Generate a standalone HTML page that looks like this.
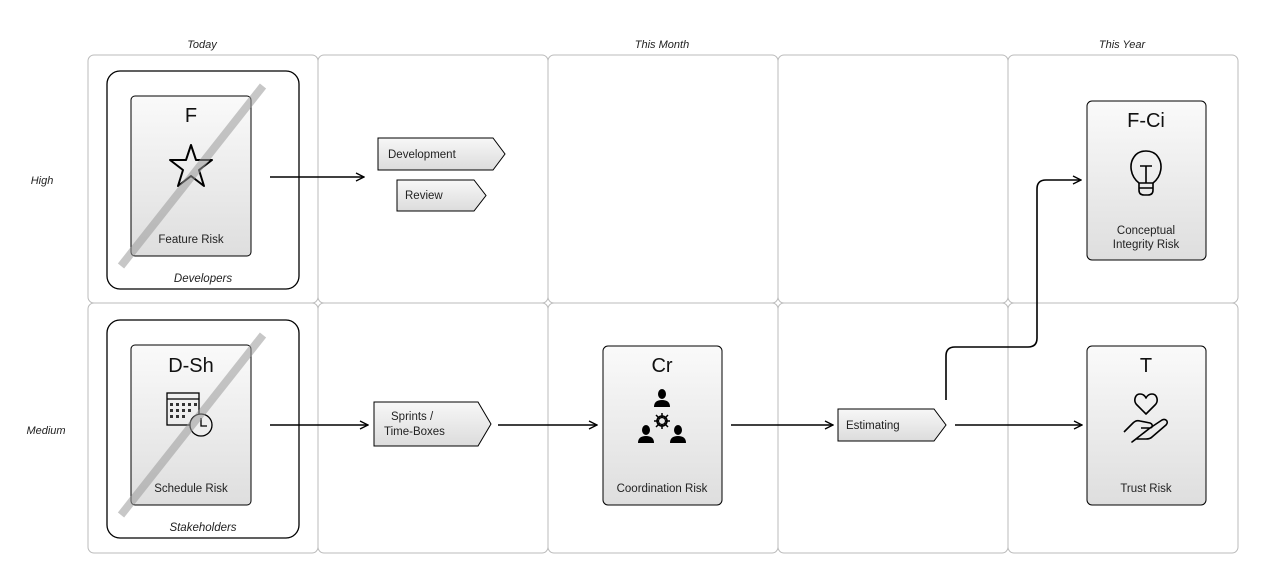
<!DOCTYPE html>
<html><head><meta charset="utf-8"><style>
html,body{margin:0;padding:0;background:#fff;}
svg{display:block;font-family:"Liberation Sans",sans-serif;}
</style></head><body>
<svg width="1262" height="578" viewBox="0 0 1262 578" xmlns="http://www.w3.org/2000/svg">
<defs>
<linearGradient id="g" x1="0" y1="0" x2="0" y2="1"><stop offset="0" stop-color="#fafafa"/><stop offset="1" stop-color="#dedede"/></linearGradient>
<linearGradient id="g2" x1="0" y1="0" x2="0" y2="1"><stop offset="0" stop-color="#f7f7f7"/><stop offset="1" stop-color="#dcdcdc"/></linearGradient>
<marker id="a" markerWidth="10" markerHeight="10" refX="9" refY="5" orient="auto" markerUnits="userSpaceOnUse"><path d="M1,1 L9,5 L1,9" fill="none" stroke="#000" stroke-width="1.3"/></marker>
</defs>
<g font-size="11" font-style="italic" fill="#222" text-anchor="middle">
<text x="202" y="48">Today</text><text x="662" y="48">This Month</text><text x="1122" y="48">This Year</text>
<text x="42" y="184">High</text><text x="46" y="434">Medium</text>
</g>
<g fill="none" stroke="#bbb" stroke-width="1">
<rect x="88" y="55" width="230" height="248" rx="6"/><rect x="318" y="55" width="230" height="248" rx="6"/><rect x="548" y="55" width="230" height="248" rx="6"/><rect x="778" y="55" width="230" height="248" rx="6"/><rect x="1008" y="55" width="230" height="248" rx="6"/>
<rect x="88" y="303" width="230" height="250" rx="6"/><rect x="318" y="303" width="230" height="250" rx="6"/><rect x="548" y="303" width="230" height="250" rx="6"/><rect x="778" y="303" width="230" height="250" rx="6"/><rect x="1008" y="303" width="230" height="250" rx="6"/>
</g>
<rect x="107" y="71" width="192" height="218" rx="13" fill="#fff" stroke="#000" stroke-width="1.3"/>
<rect x="107" y="320" width="192" height="218" rx="13" fill="#fff" stroke="#000" stroke-width="1.3"/>
<g font-size="11.5" font-style="italic" text-anchor="middle" fill="#222"><text x="203" y="282">Developers</text><text x="203" y="531">Stakeholders</text></g>
<g stroke="#000" stroke-width="1" fill="url(#g)">
<rect x="131" y="96" width="120" height="160" rx="4"/>
<rect x="131" y="345" width="120" height="160" rx="4"/>
<rect x="603" y="346" width="119" height="159" rx="5"/>
<rect x="1087" y="346" width="119" height="159" rx="5"/>
<rect x="1087" y="101" width="119" height="159" rx="5"/>
</g>
<g font-size="20" text-anchor="middle" fill="#111">
<text x="191" y="122">F</text><text x="191" y="372">D-Sh</text><text x="662" y="372">Cr</text><text x="1146" y="372">T</text><text x="1146" y="127">F-Ci</text>
</g>
<g font-size="11.5" text-anchor="middle" fill="#222">
<text x="191" y="243">Feature Risk</text><text x="191" y="492">Schedule Risk</text><text x="662" y="492">Coordination Risk</text><text x="1146" y="492">Trust Risk</text>
<text x="1146" y="234">Conceptual</text><text x="1146" y="248">Integrity Risk</text>
</g>
<path d="M191,145 L196,160 L212,160 L199,170 L204,186 L191,176 L178,186 L183,170 L170,160 L186,160 Z" fill="none" stroke="#000" stroke-width="2" stroke-linejoin="round"/>
<g fill="none" stroke="#000" stroke-width="1.3">
<rect x="167" y="393" width="32" height="32"/><line x1="167" y1="399" x2="199" y2="399"/>
<circle cx="201" cy="425" r="11" fill="#eee"/><path d="M201,418 V426 H207"/>
</g>
<g fill="none" stroke="#000" stroke-width="1.6" stroke-linejoin="round">
<path d="M1139,183 C1130,176 1129,164 1134,157 C1139,149 1153,149 1158,157 C1163,164 1162,176 1153,183 Z"/>
<path d="M1139,183 V190 Q1139,195 1144,195 H1148 Q1153,195 1153,190 V183 M1139,188 H1153"/>
<path d="M1140,166 H1152 M1146,166 V183"/>
<path d="M1146,414 L1137,405 C1133,401 1135,394 1140,394 C1143,394 1145,396 1146,398 C1147,396 1149,394 1152,394 C1157,394 1159,401 1155,405 Z"/>
<path d="M1124,432 L1133,423 C1135,421 1137,420 1140,421 L1150,423 C1153,424 1153,428 1150,428 L1141,428 M1150,428 L1162,420 C1166,418 1169,422 1166,425 L1152,437 C1150,439 1148,439 1146,439 L1136,439 L1132,442 Z"/>
</g>
<g fill="#333">
<rect x="170" y="403" width="3" height="3"/><rect x="176" y="403" width="3" height="3"/><rect x="182" y="403" width="3" height="3"/><rect x="188" y="403" width="3" height="3"/><rect x="194" y="403" width="3" height="3"/>
<rect x="170" y="409" width="3" height="3"/><rect x="176" y="409" width="3" height="3"/><rect x="182" y="409" width="3" height="3"/><rect x="188" y="409" width="3" height="3"/>
<rect x="170" y="415" width="3" height="3"/><rect x="176" y="415" width="3" height="3"/><rect x="182" y="415" width="3" height="3"/>
</g>
<g fill="#000">
<ellipse cx="662" cy="394" rx="4" ry="5"/><path d="M654,407 q0,-7 8,-7 q8,0 8,7 z"/>
<ellipse cx="646" cy="430" rx="4" ry="5"/><path d="M638,443 q0,-7 8,-7 q8,0 8,7 z"/>
<ellipse cx="678" cy="430" rx="4" ry="5"/><path d="M670,443 q0,-7 8,-7 q8,0 8,7 z"/>
</g>
<circle cx="662" cy="421" r="5" fill="none" stroke="#000" stroke-width="1.6"/>
<g stroke="#000" stroke-width="1.5"><line x1="662" y1="413" x2="662" y2="429"/><line x1="654" y1="421" x2="670" y2="421"/><line x1="656" y1="415" x2="668" y2="427"/><line x1="668" y1="415" x2="656" y2="427"/></g>
<circle cx="662" cy="421" r="3.5" fill="#e8e8e8" stroke="#000" stroke-width="1.2"/>
<g stroke="#999" stroke-opacity="0.55" stroke-width="8"><line x1="121" y1="266" x2="263" y2="86"/><line x1="121" y1="515" x2="263" y2="335"/></g>
<g stroke="#000" stroke-width="1" fill="url(#g2)">
<path d="M378,138 H493 L505,154 L493,170 H378 Z"/>
<path d="M397,180 H474 L486,195.5 L474,211 H397 Z"/>
<path d="M374,402 H478 L491,424 L478,446 H374 Z"/>
<path d="M838,409 H934 L946,425 L934,441 H838 Z"/>
</g>
<g font-size="11.5" fill="#222">
<text x="388" y="158">Development</text><text x="405" y="199">Review</text>
<text x="391" y="420">Sprints /</text><text x="384" y="435">Time-Boxes</text>
<text x="846" y="429">Estimating</text>
</g>
<g stroke="#000" stroke-width="1.6" fill="none" marker-end="url(#a)">
<line x1="270" y1="177" x2="364" y2="177"/>
<line x1="270" y1="425" x2="368" y2="425"/>
<line x1="498" y1="425" x2="597" y2="425"/>
<line x1="731" y1="425" x2="833" y2="425"/>
<line x1="955" y1="425" x2="1082" y2="425"/>
<path d="M946,400 V356 q0,-9 9,-9 H1028 q9,0 9,-9 V189 q0,-9 9,-9 H1081"/>
</g>
</svg>
</body></html>
